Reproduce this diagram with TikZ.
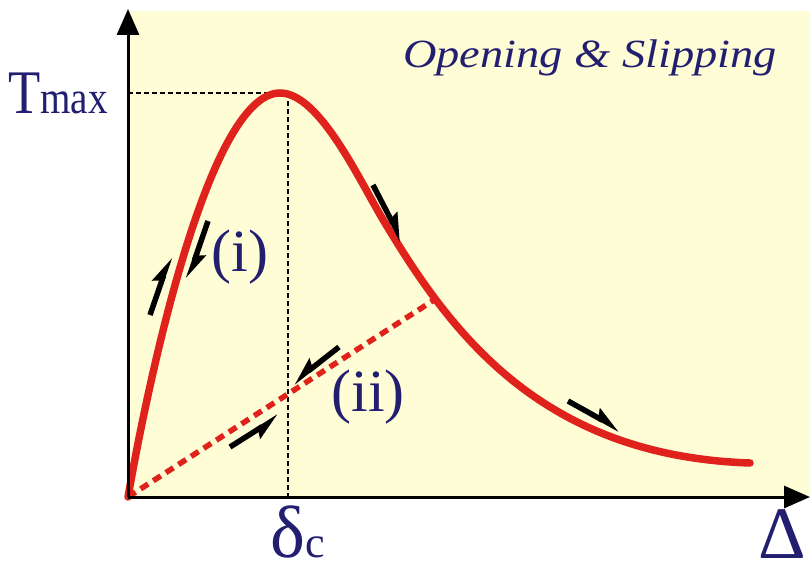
\documentclass[tikz,border=0pt]{standalone}
\usepackage{fontspec}
\setmainfont{Liberation Serif}
\definecolor{CurveRed}{RGB}{224,34,28}
\definecolor{PaperYellow}{RGB}{255,253,214}
\definecolor{LabelNavy}{RGB}{34,30,112}
\usepackage{tikz}
\usetikzlibrary{arrows.meta, positioning, calc}

\tikzset{
  axis/.style={line width=3pt, -{Triangle[length=26pt,width=22pt]}},
  law/.style={draw=CurveRed, line width=7.5pt, line cap=round},
  unload/.style={draw=CurveRed, line width=5.5pt, dash pattern=on 9pt off 6pt},
  guide/.style={draw=black, line width=1.8pt, dash pattern=on 5pt off 3pt},
  sense/.style={line width=5.5pt, -{Stealth[harpoon,length=22pt,width=18pt,inset=3pt]}},
  senseback/.style={line width=5.5pt, -{Stealth[harpoon,swap,length=22pt,width=18pt,inset=3pt]}},
  lbl/.style={text=LabelNavy, inner sep=0pt}
}

\begin{document}
\begin{tikzpicture}[x=1pt,y=1pt]
\useasboundingbox (0,0) rectangle (810,571);
\fill[PaperYellow] (128,74) rectangle (810,560);

\coordinate (O) at (128,74);
\coordinate (peak) at (280,478);
\coordinate (bend) at (385,348);
\coordinate (tail) at (750,108);
\coordinate (meet) at (434,271);
\coordinate (ytip) at (128,562);
\coordinate (xtip) at (810,74);
\coordinate (dc) at (288,74);

% guides to the peak
\draw[guide] (O |- peak) -- (dc |- peak) -- (dc);

% traction law
\draw[law] (O) .. controls (150,200) and (210,478) .. (peak)
  .. controls (320,478) and (360,389) .. (bend)
  .. controls (450,240) and (540,115) .. (tail);
\draw[unload] (O) -- (meet);

\draw[axis] (O) -- (ytip);
\draw[axis] (O) -- (xtip);

% loading / unloading senses
\draw[sense] (150,256) -- (170,314);
\draw[sense] (208,350) -- (188,292);
\draw[sense] (373,386) -- (402,330);
\draw[sense] (568,170) -- (620,141);
\draw[senseback] (339,224) -- (293,188);
\draw[senseback] (230,124) -- (279,155);

\node[lbl, anchor=base east] (tmax) at (108,457) {\scalebox{0.85}[1]{{\fontsize{62}{62}\selectfont T}{\fontsize{46}{46}\selectfont max}}};
\node[lbl, anchor=base west] (deltac) at (270,14) {{\fontsize{74}{74}\selectfont δ}{\fontsize{44}{44}\selectfont c}};
\node[lbl, anchor=base] (delta) at (782,13) {\fontsize{74}{74}\selectfont Δ};
\node[lbl, anchor=base east] (mode) at (777,503) {\scalebox{1.16}[1]{\fontsize{40}{40}\selectfont\itshape Opening \& Slipping}};
\node[lbl] (stagei) at (240,314) {\fontsize{60}{60}\selectfont (i)};
\node[lbl] (stageii) at (368,174) {\fontsize{60}{60}\selectfont (ii)};
\end{tikzpicture}
\end{document}
